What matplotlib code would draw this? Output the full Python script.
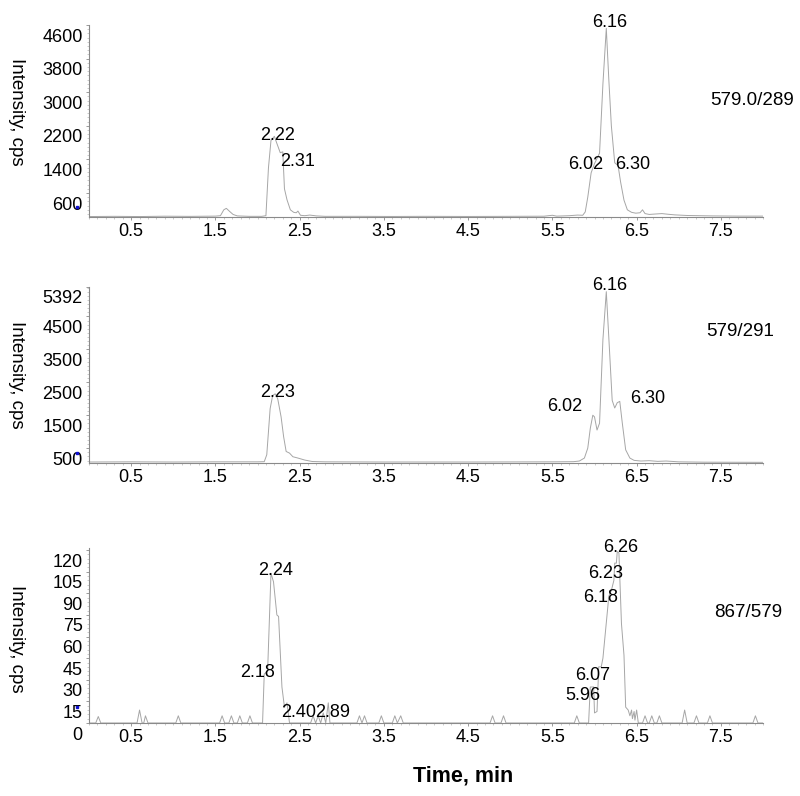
import matplotlib
matplotlib.use('Agg')
import matplotlib.pyplot as plt
from matplotlib.transforms import ScaledTranslation, blended_transform_factory
from matplotlib.ticker import FixedLocator, MultipleLocator

plt.rcParams['font.family'] = ['Liberation Sans', 'DejaVu Sans']

# ---------------- data ----------------
x_ticks = [0.5, 1.5, 2.5, 3.5, 4.5, 5.5, 6.5, 7.5]
x_tick_labels = ['0.5', '1.5', '2.5', '3.5', '4.5', '5.5', '6.5', '7.5']

# trace 1: 579.0/289
time_289 = [0.00, 0.30, 0.60, 0.90, 1.20, 1.50, 1.56, 1.60, 1.63, 1.67, 1.71, 1.76, 1.90, 2.05,
            2.10, 2.13, 2.16, 2.20, 2.23, 2.27, 2.30, 2.32, 2.35, 2.39, 2.43, 2.46, 2.48, 2.51,
            2.56, 2.62, 2.70, 2.80, 3.20, 3.60, 4.00, 4.50, 5.00, 5.40, 5.50, 5.55, 5.70, 5.80,
            5.86, 5.89, 5.92, 5.96, 6.00, 6.06, 6.10, 6.14, 6.17, 6.20, 6.24, 6.28, 6.31, 6.35,
            6.39, 6.44, 6.49, 6.54, 6.57, 6.60, 6.65, 6.72, 6.80, 6.87, 6.95, 7.10, 7.40, 7.70, 8.00]
int_289 = [40, 45, 40, 48, 44, 50, 60, 200, 235, 160, 90, 55, 45, 45,
           60, 1200, 1850, 1950, 1780, 1560, 1580, 700, 440, 200, 140, 130, 170, 70,
           60, 75, 55, 45, 45, 42, 45, 42, 45, 48, 70, 50, 60, 75,
           70, 150, 500, 1080, 1300, 1550, 3200, 4520, 3300, 2200, 1320, 1250, 860, 430,
           200, 140, 120, 130, 200, 110, 90, 100, 110, 95, 80, 65, 55, 50, 50]

# trace 2: 579/291
time_291 = [0.00, 0.50, 1.00, 1.50, 2.00, 2.08, 2.11, 2.15, 2.18, 2.21, 2.24, 2.28, 2.31, 2.34,
            2.38, 2.42, 2.48, 2.56, 2.65, 2.80, 3.50, 4.50, 5.50, 5.75, 5.82, 5.88, 5.92, 5.95,
            5.98, 6.00, 6.03, 6.06, 6.10, 6.14, 6.17, 6.21, 6.24, 6.27, 6.30, 6.33, 6.37, 6.42,
            6.47, 6.55, 6.65, 6.75, 6.85, 7.00, 7.30, 8.00]
int_291 = [80, 85, 80, 85, 85, 90, 300, 1700, 2100, 2150, 2000, 1450, 850, 400,
           350, 240, 200, 140, 95, 85, 80, 80, 85, 90, 110, 200, 500, 1100,
           1500, 1450, 1050, 1260, 3800, 5250, 3850, 1950, 1720, 1880, 1920, 1260, 450, 200,
           130, 110, 120, 100, 110, 85, 75, 70]

# trace 3: 867/579
time_579 = [0.00, 0.08, 0.11, 0.14, 0.57, 0.60, 0.63, 0.65, 0.67, 0.70, 1.03, 1.06, 1.09,
            1.55, 1.58, 1.61, 1.66, 1.69, 1.72, 1.76, 1.79, 1.82, 1.88, 1.91, 1.94,
            2.06, 2.08, 2.12, 2.16, 2.19, 2.23, 2.25, 2.29, 2.32, 2.35, 2.38,
            2.63, 2.66, 2.69, 2.72, 2.75, 2.78, 2.81, 2.84, 2.86,
            3.18, 3.21, 3.24, 3.27, 3.30, 3.44, 3.47, 3.50, 3.60, 3.63, 3.66, 3.70, 3.73,
            4.76, 4.79, 4.82, 4.89, 4.92, 4.95, 5.76, 5.79, 5.82,
            5.93, 5.95, 5.99, 6.00, 6.03, 6.05, 6.08, 6.10, 6.17, 6.20, 6.23, 6.24, 6.26,
            6.27, 6.29, 6.32, 6.35, 6.37, 6.40, 6.42, 6.44, 6.45, 6.47, 6.48, 6.50, 6.52,
            6.57, 6.60, 6.63, 6.65, 6.68, 6.71, 6.74, 6.77, 6.80,
            7.04, 7.07, 7.10, 7.18, 7.21, 7.24, 7.34, 7.37, 7.40, 7.88, 7.91, 7.94, 8.00]
int_579 = [0, 0, 4.5, 0, 0, 9, 0, 0, 5, 0, 0, 5, 0,
           0, 5, 0, 0, 5, 0, 0, 5, 0, 0, 5, 0,
           0, 34, 36, 104, 98, 75, 74, 25, 11, 14, 0,
           0, 5, 0, 5, 0, 7, 0, 14, 0,
           0, 5, 0, 5, 0, 0, 5, 0, 0, 5, 0, 5, 0,
           0, 5, 0, 0, 5, 0, 0, 5, 0,
           0, 25, 25, 7, 8, 39, 39, 45, 88, 92, 99, 111, 111,
           119, 118, 69, 47, 11, 9, 5, 9, 3, 8, 2, 9, 0,
           0, 5, 0, 0, 5, 0, 0, 5, 0,
           0, 9, 0, 0, 5, 0, 0, 5, 0, 0, 5, 0, 0]

# peak labels: (text, time, intensity)
labels_289 = [('2.22', 2.24, 1980), ('2.31', 2.48, 1340), ('6.16', 6.18, 4670),
              ('6.02', 5.90, 1270), ('6.30', 6.45, 1270)]
labels_291 = [('2.23', 2.24, 2175), ('6.16', 6.18, 5450), ('6.02', 5.65, 1750),
              ('6.30', 6.63, 2020)]
labels_579 = [('2.24', 2.22, 106), ('2.18', 2.00, 35), ('2.40', 2.49, 7.6), ('2.89', 2.89, 7.6),
              ('6.26', 6.31, 122), ('6.23', 6.13, 104), ('6.18', 6.07, 87), ('6.07', 5.98, 33),
              ('5.96', 5.86, 19.4)]

y_ticks_289 = [600, 1400, 2200, 3000, 3800, 4600]
y_ticks_291 = [500, 1500, 2500, 3500, 4500, 5392]
y_ticks_579 = [0, 15, 30, 45, 60, 75, 90, 105, 120]

transitions = ['579.0/289', '579/291', '867/579']
thresholds = [267, 353, 11]

# ---------------- figure ----------------
W, H = 800, 796
fig = plt.figure(figsize=(W / 100, H / 100), dpi=100)

panels = [
    dict(box=(89, 25, 763, 217), t=time_289, y=int_289, ylim=(29, 4600), yt=y_ticks_289,
         lab=labels_289, name=transitions[0], name_pos=(0.984, 0.609), thr=thresholds[0],
         ylab_y=112, minor=100),
    dict(box=(89, 287, 763, 463), t=time_291, y=int_291, ylim=(50, 5392), yt=y_ticks_291,
         lab=labels_291, name=transitions[1], name_pos=(0.966, 0.75), thr=thresholds[1],
         ylab_y=375, minor=125),
    dict(box=(89, 548, 763, 723), t=time_579, y=int_579, ylim=(0, 121.5), yt=y_ticks_579,
         lab=labels_579, name=transitions[2], name_pos=(0.978, 0.634), thr=thresholds[2],
         ylab_y=639, minor=3),
]

axis_color = '#8a8a8a'
trace_color = '#a6a6a6'
label_offset = ScaledTranslation(0, -0.10, fig.dpi_scale_trans)
FS = 13

for p in panels:
    x0, y0, x1, y1 = p['box']
    ax = fig.add_axes([x0 / W, 1 - y1 / H, (x1 - x0) / W, (y1 - y0) / H])
    ax.plot(p['t'], p['y'], color=trace_color, lw=0.7)
    ax.set_xlim(0, 8.0)
    ax.set_ylim(*p['ylim'])
    for s in ['top', 'right']:
        ax.spines[s].set_visible(False)
    for s in ['left', 'bottom']:
        ax.spines[s].set_color(axis_color)
        ax.spines[s].set_linewidth(0.8)
    ax.xaxis.set_major_locator(FixedLocator(x_ticks))
    ax.set_xticklabels(x_tick_labels)
    ax.xaxis.set_minor_locator(MultipleLocator(0.1))
    ax.yaxis.set_major_locator(FixedLocator(p['yt']))
    ax.set_yticklabels([str(v) for v in p['yt']])
    ax.yaxis.set_minor_locator(MultipleLocator(p['minor']))
    ax.tick_params(axis='both', which='major', labelsize=FS, colors=axis_color,
                   labelcolor='black', length=2, width=0.6, pad=2.5)
    ax.tick_params(axis='both', which='minor', colors='#b5b5b5', length=1.5, width=0.5)
    for lab in ax.get_yticklabels():
        lab.set_transform(lab.get_transform() + label_offset)
    for txt, tx, ty in p['lab']:
        ax.text(tx, ty, txt, fontsize=FS, ha='center', va='center', color='black')
    ax.text(p['name_pos'][0], p['name_pos'][1], p['name'], transform=ax.transAxes,
            fontsize=13.5, ha='center', va='center', color='black')
    bt = blended_transform_factory(ax.transAxes, ax.transData)
    ax.plot([-0.018], [p['thr']], marker='s', ms=1.8, color='#1010d0', transform=bt,
            clip_on=False)
    fig.text(16 / W, 1 - p['ylab_y'] / H, 'Intensity, cps', rotation=270, fontsize=13.5,
             ha='center', va='center', color='black')

fig.text(463 / W, 1 - 776 / H, 'Time, min', fontsize=15.5, fontweight='bold',
         ha='center', va='center', color='black')

fig.savefig('out.png', dpi=100)
